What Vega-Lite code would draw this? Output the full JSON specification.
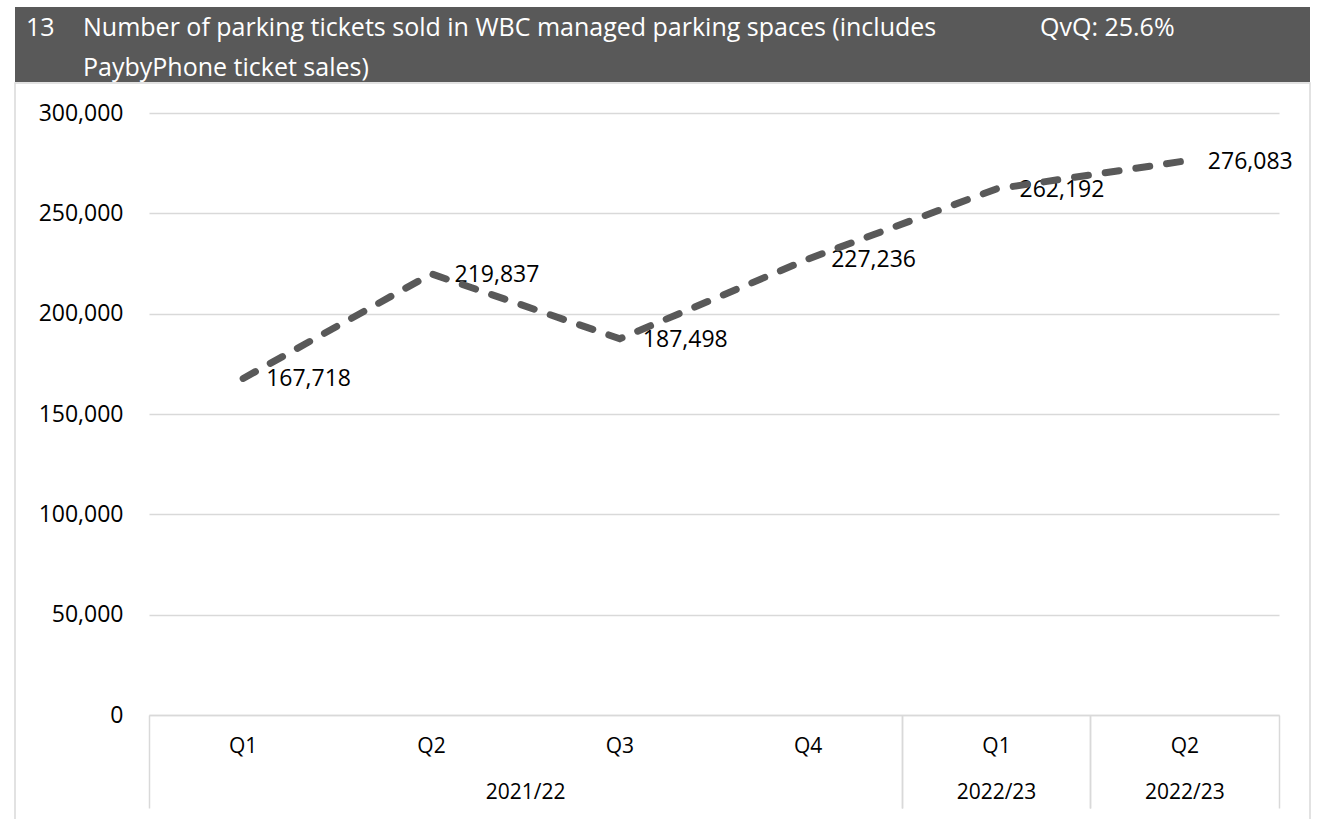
{
  "$schema": "https://vega.github.io/schema/vega-lite/v6.json",
  "padding": {"left": 14, "top": 7, "right": 0, "bottom": 0},
  "background": "white",
  "spacing": 0,
  "config": {"font": "Open Sans"},
  "vconcat": [
    {
      "hconcat": [
        {
          "width": 56, "height": 75,
          "data": {"values": [{"k": 1}]},
          "mark": {"type": "text", "text": " "},
          "view": {"fill": "#595959", "stroke": null},
          "title": {"text": "13", "anchor": "start", "frame": "group", "orient": "top", "offset": -34, "baseline": "top", "dx": 11, "color": "white", "fontSize": 25, "fontWeight": "normal", "font": "Open Sans"}
        },
        {
          "width": 957, "height": 75,
          "data": {"values": [{"k": 1}]},
          "mark": {"type": "text", "text": " "},
          "view": {"fill": "#595959", "stroke": null},
          "title": {"text": ["Number of parking tickets sold in WBC managed parking spaces (includes", "PaybyPhone ticket sales)"], "anchor": "start", "frame": "group", "orient": "top", "offset": -74, "baseline": "top", "dx": 12, "lineHeight": 40, "color": "white", "fontSize": 25, "fontWeight": "normal", "font": "Open Sans"}
        },
        {
          "width": 282, "height": 75,
          "data": {"values": [{"k": 1}]},
          "mark": {"type": "text", "text": " "},
          "view": {"fill": "#595959", "stroke": null},
          "title": {"text": "QvQ: 25.6%", "anchor": "start", "frame": "group", "orient": "top", "offset": -34, "baseline": "top", "dx": 12, "color": "white", "fontSize": 25, "fontWeight": "normal", "font": "Open Sans"}
        }
      ],
      "spacing": 0
    },
    {
      "width": 1295,
      "height": 740,
      "view": {"stroke": "#d9d9d9", "strokeWidth": 1.5, "fill": "white"},
      "data": {"values": [
        {"year": "2021/22", "quarter": "Q1", "period": "2021/22 Q1", "tickets": 167718},
        {"year": "2021/22", "quarter": "Q2", "period": "2021/22 Q2", "tickets": 219837},
        {"year": "2021/22", "quarter": "Q3", "period": "2021/22 Q3", "tickets": 187498},
        {"year": "2021/22", "quarter": "Q4", "period": "2021/22 Q4", "tickets": 227236},
        {"year": "2022/23", "quarter": "Q1", "period": "2022/23 Q1", "tickets": 262192},
        {"year": "2022/23", "quarter": "Q2", "period": "2022/23 Q2", "tickets": 276083}
      ]},
      "layer": [
        {
          "mark": {"type": "text", "align": "left", "baseline": "middle", "dx": 23, "dy": 1, "fontSize": 23, "color": "#000000", "font": "Open Sans"},
          "encoding": {
            "x": {"field": "period", "type": "nominal", "sort": null,
              "scale": {"type": "band", "range": [134, 1264], "paddingInner": 0, "paddingOuter": 0},
              "axis": {"orient": "bottom", "offset": -108, "title": null,
                "values": ["2021/22 Q1", "2022/23 Q1", "2022/23 Q2"],
                "bandPosition": 0,
                "ticks": true, "tickSize": 93, "tickColor": "#d9d9d9", "tickWidth": 1.5,
                "domain": false, "grid": false,
                "labelExpr": "split(datum.value, ' ')[0]",
                "labelPadding": -16, "labelBaseline": "middle", "labelAngle": 0, "labelAlign": "center",
                "labelOffset": {"condition": {"test": "datum.value === '2021/22 Q1'", "value": 282.5}, "value": 0},
                "labelFontSize": 21, "labelColor": "#000000", "labelFont": "Open Sans"}},
            "y": {"field": "tickets", "type": "quantitative",
              "scale": {"domain": [0, 300000], "range": [632, 30], "nice": false},
              "axis": {"orient": "left", "offset": -134, "title": null,
                "values": [0, 50000, 100000, 150000, 200000, 250000, 300000],
                "labelExpr": "format(datum.value, ',')",
                "domain": false, "ticks": false, "labelPadding": 26,
                "grid": true, "gridColor": "#d9d9d9", "gridWidth": 1.3,
                "labelFontSize": 23, "labelColor": "#000000", "labelFont": "Open Sans"}},
            "text": {"field": "tickets", "type": "quantitative", "format": ","}
          }
        },
        {
          "mark": {"type": "line", "color": "#595959", "strokeWidth": 7, "strokeDash": [14, 17], "strokeCap": "round"},
          "encoding": {
            "x": {"field": "period", "type": "nominal", "sort": null,
              "axis": {"orient": "bottom", "offset": -108, "title": null,
                "bandPosition": 1,
                "ticks": true, "tickSize": 93, "tickColor": "#d9d9d9", "tickWidth": 1.5,
                "tickOpacity": {"condition": {"test": "datum.value === '2021/22 Q4' || datum.value === '2022/23 Q1' || datum.value === '2022/23 Q2'", "value": 1}, "value": 0},
                "domain": true, "domainColor": "#d9d9d9", "domainWidth": 1.5, "grid": false,
                "labelExpr": "split(datum.value, ' ')[1]",
                "labelPadding": -62, "labelBaseline": "middle", "labelAngle": 0, "labelAlign": "center",
                "labelFontSize": 21, "labelColor": "#000000", "labelFont": "Open Sans"}},
            "y": {"field": "tickets", "type": "quantitative",
              "axis": {"orient": "left", "offset": -134, "title": null,
                "values": [0, 50000, 100000, 150000, 200000, 250000, 300000],
                "labelExpr": "format(datum.value, ',')",
                "domain": false, "ticks": false, "labelPadding": 26,
                "grid": true, "gridColor": "#d9d9d9", "gridWidth": 1.3,
                "labelFontSize": 23, "labelColor": "#000000", "labelFont": "Open Sans"}}
          }
        }
      ],
      "resolve": {"axis": {"x": "independent"}}
    }
  ]
}
